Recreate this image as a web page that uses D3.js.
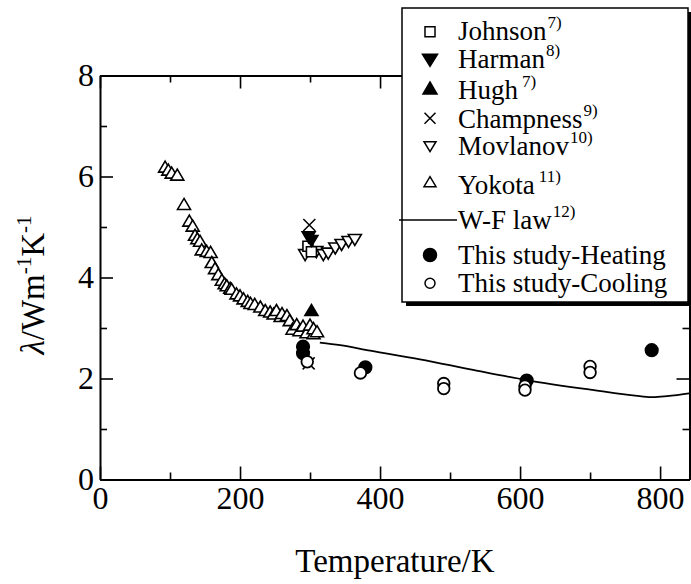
<!DOCTYPE html>
<html><head><meta charset="utf-8">
<script src="https://cdn.jsdelivr.net/npm/d3@7"></script>
<style>body{margin:0;background:#fff}svg{display:block}</style></head>
<body><svg id="c" width="691" height="584" font-family="Liberation Serif, Times New Roman, serif"></svg>
<script>
// ---- data (T in K, lambda in W m-1 K-1) ----
const xTickValues = [0, 200, 400, 600, 800];
const xMinorTicks = [100, 300, 500, 700];
const yTickValues = [0, 2, 4, 6, 8];
const yMinorTicks = [1, 3, 5, 7];

const johnson = [[297, 4.62], [302, 4.51]];
const harman = [[298, 4.83], [302, 4.76]];
const hugh = [[302, 3.32]];
const champness = [[299, 5.04], [298, 2.30]];
const movlanov = [[293, 4.48], [309, 4.54], [319, 4.48], [326, 4.51], [336, 4.61], [345, 4.68], [355, 4.74], [364, 4.78]];
const yokota = [[93, 6.16], [97.6, 6.10], [102.4, 6.04], [110.4, 6.00], [120, 5.42], [127.6, 5.09], [132.4, 4.99],
  [135.7, 4.81], [139, 4.74], [142.9, 4.69], [145.3, 4.52], [152.4, 4.49], [158, 4.47], [159.6, 4.27], [164.3, 4.15],
  [169, 4.03], [174, 3.92], [178, 3.85], [181, 3.81], [186, 3.76], [188, 3.74], [195, 3.65], [200, 3.61], [205, 3.55],
  [211, 3.50], [215, 3.46], [221, 3.44], [229, 3.39], [236, 3.32], [243, 3.29], [248, 3.25], [252, 3.32], [258, 3.20],
  [260, 3.26], [267, 3.22], [271, 3.12], [275, 2.95], [281, 3.04], [285, 2.92], [290, 3.01], [295, 2.88], [300, 3.03],
  [305, 2.86], [305, 2.96], [310, 2.90]];
const wfLaw = [[314, 2.71], [343, 2.66], [386, 2.55], [457, 2.38], [533, 2.17], [609, 1.97], [700, 1.78], [771, 1.65],
  [790, 1.63], [810, 1.65], [844, 1.71]];
const heating = [[290, 2.63], [290, 2.50], [379, 2.22], [609.5, 1.96], [788, 2.56]];
const cooling = [[296, 2.33], [372, 2.11], [491, 1.90], [491, 1.80], [607, 1.85], [607, 1.77], [700, 2.24], [700, 2.12]];

const legendLabels = ["Johnson", "Harman", "Hugh", "Champness", "Movlanov", "Yokota", "W-F law", "This study-Heating", "This study-Cooling"];
const legendRefs = ["7)", "8)", "7)", "9)", "10)", "11)", "12)", "", ""];

// ---- drawing ----
const FONT = "Liberation Serif, Times New Roman, serif";
const svg = d3.select("#c");
svg.append("rect").attr("width", 691).attr("height", 584).attr("fill", "#fff");

const x = d3.scaleLinear([0, 842], [100, 689.5]);
const y = d3.scaleLinear([0, 8], [479.5, 75.5]);

function styleAxis(g) {
  g.attr("font-family", FONT);
  g.selectAll("path.domain").attr("stroke", "#000").attr("stroke-width", 2);
  g.selectAll(".tick line").attr("stroke", "#000").attr("stroke-width", 1.6);
  g.selectAll("text").attr("fill", "#000").attr("font-family", FONT);
}

// bottom
svg.append("g").attr("transform", `translate(0,${y(0)})`)
  .call(d3.axisBottom(x).tickValues(xTickValues).tickSize(-13).tickSizeOuter(0).tickPadding(7).tickFormat(d3.format("d")))
  .call(g => g.attr("font-size", 32)).call(styleAxis);
svg.append("g").attr("transform", `translate(0,${y(0)})`)
  .call(d3.axisBottom(x).tickValues(xMinorTicks).tickSize(-7).tickFormat(""))
  .call(g => g.select(".domain").remove()).call(styleAxis);
// top
svg.append("g").attr("transform", `translate(0,${y(8)})`)
  .call(d3.axisTop(x).tickValues(xTickValues).tickSize(-13).tickSizeOuter(0).tickFormat(""))
  .call(styleAxis);
svg.append("g").attr("transform", `translate(0,${y(8)})`)
  .call(d3.axisTop(x).tickValues(xMinorTicks).tickSize(-7).tickFormat(""))
  .call(g => g.select(".domain").remove()).call(styleAxis);
// left
svg.append("g").attr("transform", `translate(${x(0)},0)`)
  .call(d3.axisLeft(y).tickValues(yTickValues).tickSize(-13).tickSizeOuter(0).tickPadding(6).tickFormat(d3.format("d")))
  .call(g => g.attr("font-size", 32)).call(styleAxis);
svg.append("g").attr("transform", `translate(${x(0)},0)`)
  .call(d3.axisLeft(y).tickValues(yMinorTicks).tickSize(-7).tickFormat(""))
  .call(g => g.select(".domain").remove()).call(styleAxis);
// right
svg.append("g").attr("transform", `translate(${x(842)},0)`)
  .call(d3.axisRight(y).tickValues(yTickValues).tickSize(-13).tickSizeOuter(0).tickFormat(""))
  .call(styleAxis);
svg.append("g").attr("transform", `translate(${x(842)},0)`)
  .call(d3.axisRight(y).tickValues(yMinorTicks).tickSize(-7).tickFormat(""))
  .call(g => g.select(".domain").remove()).call(styleAxis);

// markers
const triUp = (w, h) => `M0,${-h * 2 / 3}L${w / 2},${h / 3}L${-w / 2},${h / 3}Z`;
const triDown = (w, h) => `M0,${h * 2 / 3}L${w / 2},${-h / 3}L${-w / 2},${-h / 3}Z`;
const square = s => `M${-s / 2},${-s / 2}h${s}v${s}h${-s}Z`;
const cross = s => `M${-s},${-s}L${s},${s}M${-s},${s}L${s},${-s}`;
const circ = r => `M${r},0A${r},${r} 0 1,1 ${-r},0A${r},${r} 0 1,1 ${r},0Z`;

const plot = svg.append("g");
function drawSeries(data, path, fill, sw = 1.6) {
  plot.append("g").selectAll("path").data(data).join("path")
    .attr("transform", d => `translate(${x(d[0])},${y(d[1])})`)
    .attr("d", path).attr("fill", fill).attr("stroke", "#000").attr("stroke-width", sw);
}
drawSeries(yokota, triUp(13, 11), "#fff");
drawSeries(movlanov, triDown(13, 11), "#fff");
drawSeries(johnson, square(10), "#fff");
drawSeries(harman, triDown(13, 11), "#000");
drawSeries(hugh, triUp(13, 11), "#000");
drawSeries(champness, cross(6), "none", 1.5);
drawSeries(heating, circ(6.3), "#000");
drawSeries(cooling, circ(5.8), "#fff", 1.8);

plot.append("path").datum(wfLaw)
  .attr("d", d3.line().x(d => x(d[0])).y(d => y(d[1])).curve(d3.curveMonotoneX))
  .attr("fill", "none").attr("stroke", "#000").attr("stroke-width", 1.8);

// axis titles
svg.append("text").attr("x", 395).attr("y", 572).attr("text-anchor", "middle")
  .attr("font-family", FONT).attr("font-size", 33).text("Temperature/K");
const yt = svg.append("text").attr("transform", "translate(44,285) rotate(-90)")
  .attr("text-anchor", "middle").attr("font-family", FONT).attr("font-size", 33);
yt.append("tspan").attr("font-style", "italic").text("λ");
yt.append("tspan").text("/Wm");
yt.append("tspan").attr("font-size", 21).attr("dy", -13).text("-1");
yt.append("tspan").attr("dy", 13).text("K");
yt.append("tspan").attr("font-size", 21).attr("dy", -13).text("-1");

// legend
const lg = svg.append("g").attr("font-family", FONT);
lg.append("rect").attr("x", 406).attr("y", 12).attr("width", 286).attr("height", 294).attr("fill", "#000");
lg.append("rect").attr("x", 402).attr("y", 8).attr("width", 286).attr("height", 294)
  .attr("fill", "#fff").attr("stroke", "#000").attr("stroke-width", 1.5);
const symY = [31.7, 58.3, 90, 118.3, 145, 183.3, 220, 255, 283.3];
const baseY = [40, 68, 99, 128, 155, 194, 229, 264, 292];
const legendSym = [
  {d: square(10), fill: "#fff"},
  {d: triDown(15, 12), fill: "#000"},
  {d: triUp(14, 12), fill: "#000"},
  {d: cross(5.5), fill: "none"},
  {d: triDown(12, 10), fill: "#fff"},
  {d: triUp(12, 10), fill: "#fff"},
  null,
  {d: circ(6.5), fill: "#000"},
  {d: circ(5), fill: "#fff"}
];
legendLabels.forEach((lab, i) => {
  const s = legendSym[i];
  if (s) {
    lg.append("path").attr("transform", `translate(430,${symY[i]})`).attr("d", s.d)
      .attr("fill", s.fill).attr("stroke", "#000").attr("stroke-width", 1.5);
  } else {
    lg.append("line").attr("x1", 399).attr("x2", 457).attr("y1", symY[i]).attr("y2", symY[i])
      .attr("stroke", "#000").attr("stroke-width", 1.6);
  }
  const t = lg.append("text").attr("x", 458).attr("y", baseY[i]).attr("font-family", FONT)
    .attr("font-size", 27).text(lab);
  if (legendRefs[i]) {
    t.append("tspan").attr("font-size", 17).attr("dx", i === 2 || i === 5 ? 4 : 1).attr("dy", -12).text(legendRefs[i]);
  }
});
</script></body></html>
